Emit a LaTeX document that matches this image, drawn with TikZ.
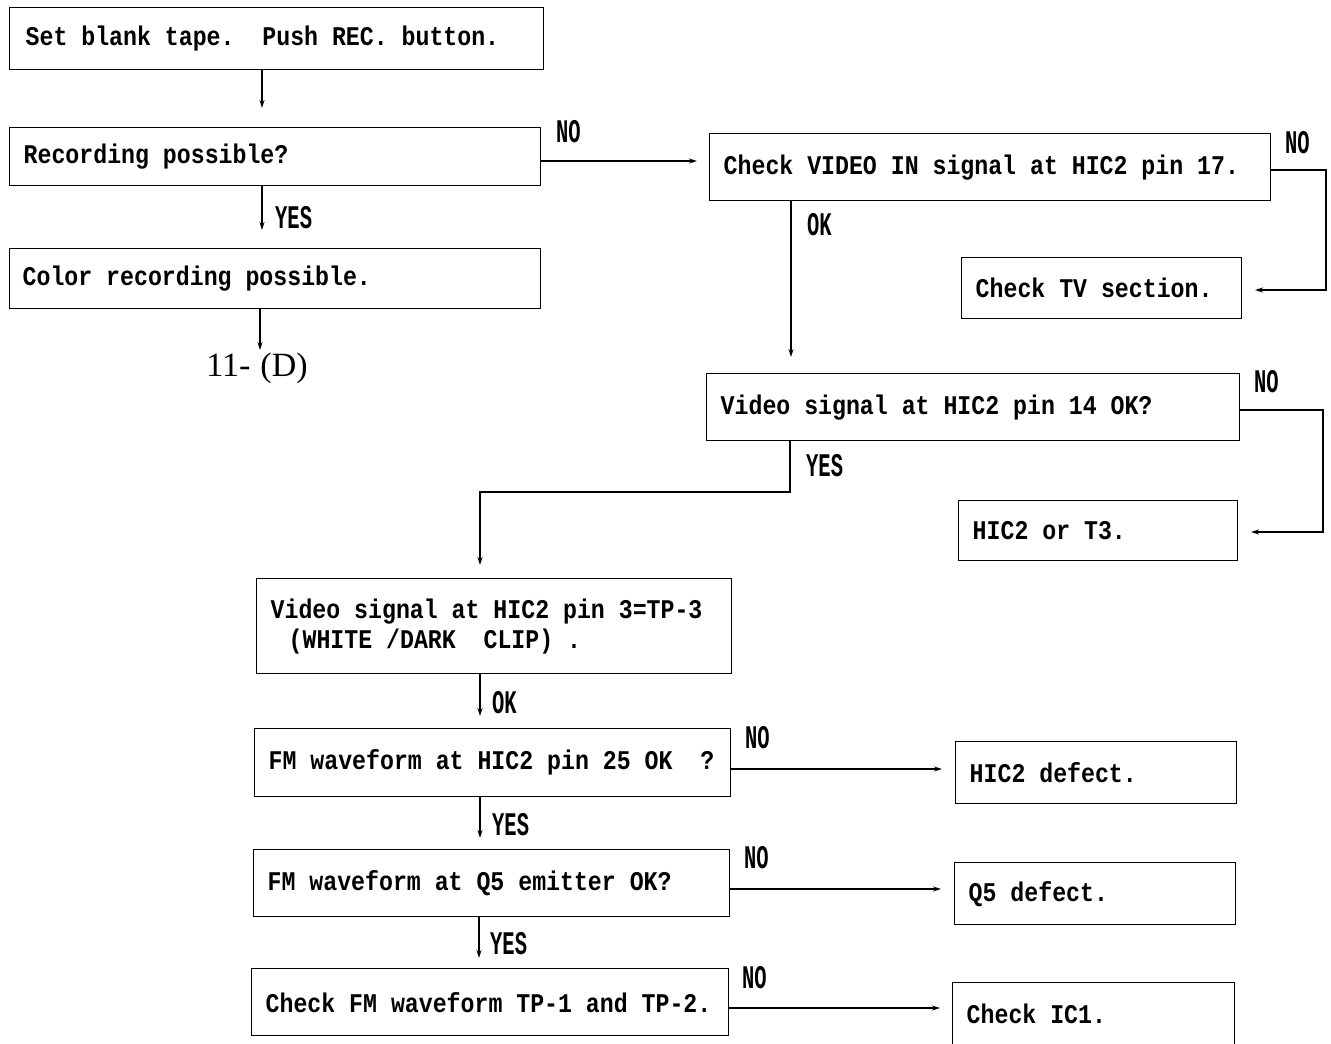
\documentclass[tikz,border=0pt]{standalone}
\usepackage{fontspec}
\usetikzlibrary{arrows.meta}
\newfontfamily\mainf[FakeStretch=0.86]{Liberation Mono Bold}
\newfontfamily\lblfam[FakeStretch=0.62]{Liberation Mono Bold}
\newfontfamily\serf{Liberation Serif}
\newcommand{\mtext}{\mainf\fontsize{27}{30}\selectfont}
\newcommand{\ltext}{\lblfam\fontsize{33}{33}\selectfont}
\begin{document}
\begin{tikzpicture}[x=1pt,y=-1pt,
  box/.style={draw, line width=1.4pt, inner xsep=14pt, inner ysep=0pt, anchor=north west, align=left, font=\mtext,
    execute at begin node={\spaceskip=13.9pt\relax\xspaceskip=13.9pt\relax}},
  arr/.style={line width=1.2pt, -{Stealth[length=8pt,width=5pt]}},
  lbl/.style={font=\ltext, anchor=base west, inner sep=0pt}]
\useasboundingbox (0,0) rectangle (1331,1044);
% boxes
\node[box, text width=502, minimum height=62, inner xsep=16pt] (b1) at (9,7) {Set blank tape.\ \ Push REC. button.};
\node[box, text width=503, minimum height=58] (b2) at (9,127) {Recording possible?};
\node[box, text width=505, minimum height=60, inner xsep=13pt] (bc) at (9,248) {Color recording possible.};
\node[font=\serf\fontsize{34}{34}\selectfont, inner sep=0pt] (d11) at (257,368) {11-\hspace{10pt}(D)};
\node[box, text width=533, minimum height=67] (b3) at (709,133) {Check VIDEO IN signal at HIC2 pin 17.};
\node[box, text width=252, minimum height=61] (b4) at (961,257) {Check TV section.};
\node[box, text width=505, minimum height=67] (b5) at (706,373) {Video signal at HIC2 pin 14 OK?};
\node[box, text width=251, minimum height=60] (b6) at (958,500) {HIC2 or T3.};
\node[box, text width=447, minimum height=95] (b7) at (256,578) {Video signal at HIC2 pin 3=TP-3\\\hspace*{18pt}(WHITE /DARK\ \ CLIP) .};
\node[box, text width=448, minimum height=68] (b8) at (254,728) {FM waveform at HIC2 pin 25 OK\ \ ?};
\node[box, text width=253, minimum height=62] (b9) at (955,741) {HIC2 defect.};
\node[box, text width=448, minimum height=67] (b10) at (253,849) {FM waveform at Q5 emitter OK?};
\node[box, text width=253, minimum height=62] (b11) at (954,862) {Q5 defect.};
\node[box, text width=449, minimum height=67] (b12) at (251,968) {Check FM waveform TP-1 and TP-2.};
\node[box, text width=254, minimum height=62] (b13) at (952,982) {Check IC1.};
% coordinates for free ends
\coordinate (c1) at (262,108);
\coordinate (c2) at (262,230);
\coordinate (c3) at (260,350);
\coordinate (c4) at (697,161);
\coordinate (c5) at (1326,170);
\coordinate (c6) at (1255,290);
\coordinate (c7) at (791,357);
\coordinate (c8) at (1323,410);
\coordinate (c9) at (1251,532);
\coordinate (c10) at (790,492);
\coordinate (c11) at (480,565);
\coordinate (c12) at (480,716);
\coordinate (c13) at (942,769);
\coordinate (c14) at (480,838);
\coordinate (c15) at (941,889);
\coordinate (c16) at (479,958);
\coordinate (c17) at (940,1008);
% connectors
\draw[arr] (b1.south -| c1) -- (c1);
\draw[arr] (b2.south -| c2) -- (c2);
\draw[arr] (bc.south -| c3) -- (c3);
\draw[arr] (b2.east |- c4) -- (c4);
\draw[arr] (b3.east |- c5) -- (c5) |- (c6);
\draw[arr] (b3.south -| c7) -- (c7);
\draw[arr] (b5.east |- c8) -- (c8) |- (c9);
\draw[arr] (b5.south -| c10) -- (c10) -| (c11);
\draw[arr] (b7.south -| c12) -- (c12);
\draw[arr] (b8.east |- c13) -- (c13);
\draw[arr] (b8.south -| c14) -- (c14);
\draw[arr] (b10.east |- c15) -- (c15);
\draw[arr] (b10.south -| c16) -- (c16);
\draw[arr] (b12.east |- c17) -- (c17);
% labels
\node[lbl] (l1) at (275,228) {YES};
\node[lbl] (l2) at (556,142) {NO};
\node[lbl] (l3) at (1285,153) {NO};
\node[lbl] (l4) at (807,235) {OK};
\node[lbl] (l5) at (1254,392) {NO};
\node[lbl] (l6) at (806,476) {YES};
\node[lbl] (l7) at (492,713) {OK};
\node[lbl] (l8) at (745,748) {NO};
\node[lbl] (l9) at (492,835) {YES};
\node[lbl] (l10) at (744,868) {NO};
\node[lbl] (l11) at (490,954) {YES};
\node[lbl] (l12) at (742,988) {NO};
\end{tikzpicture}
\end{document}
